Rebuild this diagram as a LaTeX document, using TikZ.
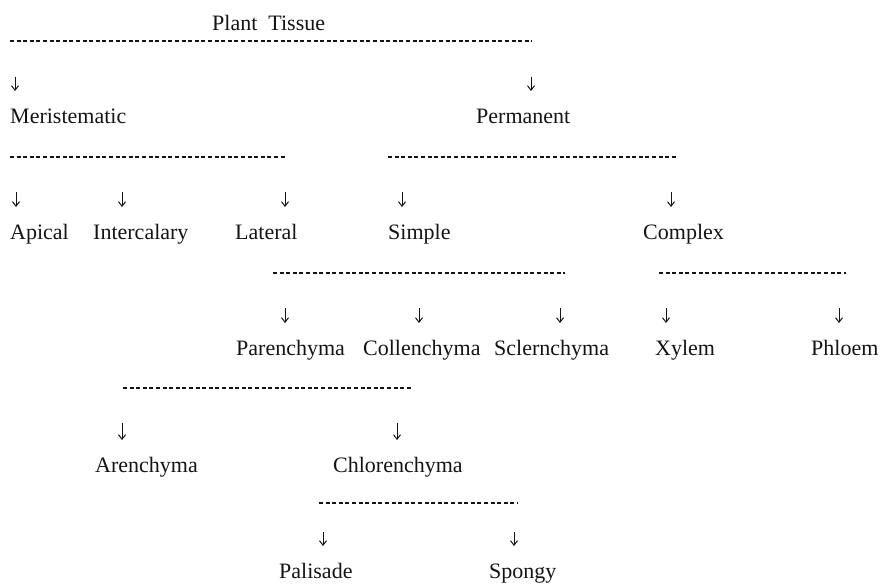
\documentclass[tikz,border=0pt]{standalone}
\usepackage{fontspec}
\setmainfont{Liberation Serif}
\usepackage{tikz}
\usetikzlibrary{arrows.meta}
\definecolor{inkgray}{RGB}{20,20,20}

\begin{document}
\begin{tikzpicture}[x=1pt,y=-1pt,
    tissue/.style={anchor=base west, inner sep=0pt, text=inkgray, font=\fontsize{22}{26}\selectfont},
    dashline/.style={inkgray, line width=1.4pt, dash pattern=on 4pt off 2.6pt},
    downarrow/.style={inkgray, line width=1pt, shorten >=32pt, -{Straight Barb[length=4.5pt,width=7pt]}}]

    \useasboundingbox (0,0) rectangle (882,583);

    % title
    \node[tissue] (plant) at (212,31) {Plant~~Tissue};
    \draw[dashline] (10,41) -- (532,41);

    % first split
    \node[tissue] (meri) at (10,123) {Meristematic};
    \node[tissue] (perm) at (476,123) {Permanent};
    \coordinate (am) at (15,77);
    \coordinate (ap) at (531,77);
    \draw[downarrow] (am) -- (am |- meri.base);
    \draw[downarrow] (ap) -- (ap |- perm.base);

    % meristematic and permanent
    \draw[dashline] (10,157) -- (287,157);
    \draw[dashline] (388,157) -- (678,157);
    \node[tissue] (apical) at (10,239) {Apical};
    \node[tissue] (inter) at (93,239) {Intercalary};
    \node[tissue] (lateral) at (235,239) {Lateral};
    \node[tissue] (simple) at (388,239) {Simple};
    \node[tissue] (complex) at (643,239) {Complex};
    \coordinate (aa) at (16,192);
    \coordinate (ai) at (122,192);
    \coordinate (al) at (285,192);
    \coordinate (as) at (402,192);
    \coordinate (ac) at (671,192);
    \draw[downarrow] (aa) -- (aa |- apical.base);
    \draw[downarrow] (ai) -- (ai |- inter.base);
    \draw[downarrow] (al) -- (al |- lateral.base);
    \draw[downarrow] (as) -- (as |- simple.base);
    \draw[downarrow] (ac) -- (ac |- complex.base);

    % simple and complex
    \draw[dashline] (273,273) -- (565,273);
    \draw[dashline] (659,273) -- (846,273);
    \node[tissue] (paren) at (236,355) {Parenchyma};
    \node[tissue] (collen) at (363,355) {Collenchyma};
    \node[tissue] (scler) at (494,355) {Sclernchyma};
    \node[tissue] (xylem) at (655,355) {Xylem};
    \node[tissue] (phloem) at (811,355) {Phloem};
    \coordinate (apa) at (285,308);
    \coordinate (aco) at (419,308);
    \coordinate (asc) at (560,308);
    \coordinate (axy) at (666,308);
    \coordinate (aph) at (839,308);
    \draw[downarrow] (apa) -- (apa |- paren.base);
    \draw[downarrow] (aco) -- (aco |- collen.base);
    \draw[downarrow] (asc) -- (asc |- scler.base);
    \draw[downarrow] (axy) -- (axy |- xylem.base);
    \draw[downarrow] (aph) -- (aph |- phloem.base);

    % parenchyma
    \draw[dashline] (123,388) -- (412,388);
    \node[tissue] (aren) at (95,472) {Arenchyma};
    \node[tissue] (chlor) at (333,472) {Chlorenchyma};
    \coordinate (aar) at (122,423);
    \coordinate (ach) at (397,423);
    \draw[downarrow] (aar) -- (aar |- aren.base);
    \draw[downarrow] (ach) -- (ach |- chlor.base);

    % chlorenchyma
    \draw[dashline] (319,503) -- (518,503);
    \node[tissue] (pali) at (279,578) {Palisade};
    \node[tissue] (spongy) at (489,578) {Spongy};
    \coordinate (apl) at (323,532);
    \coordinate (asp) at (514,532);
    \draw[downarrow] (apl) -- (apl |- pali.base);
    \draw[downarrow] (asp) -- (asp |- spongy.base);

\end{tikzpicture}
\end{document}
